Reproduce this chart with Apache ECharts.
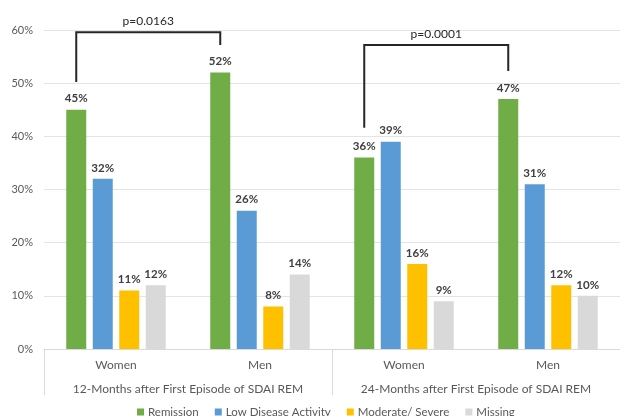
<!DOCTYPE html>
<html>
<head>
<meta charset="utf-8">
<script src="https://cdn.jsdelivr.net/npm/echarts@6/dist/echarts.min.js"></script>
<style>
html,body{margin:0;padding:0;background:#fff;}
#c{width:620px;height:416px;}
</style>
</head>
<body>
<div id="c"></div>
<script>
const categories = ['Women', 'Men', 'Women', 'Men'];
const groups = ['12-Months after First Episode of SDAI REM', '24-Months after First Episode of SDAI REM'];
const seriesNames = ['Remission', 'Low Disease Activity', 'Moderate/ Severe', 'Missing'];
const remission = [45, 52, 36, 47];
const lowDisease = [32, 26, 39, 31];
const moderate = [11, 8, 16, 12];
const missing = [12, 14, 9, 10];
const colors = ['#70AD47', '#5B9BD5', '#FFC000', '#D9D9D9'];
const yTicks = [0, 10, 20, 30, 40, 50, 60];
// brackets: [leftCategory, rightCategory], left-foot value, top value, right-foot value, label
const bracketCats = [[0, 1], [2, 3]];
const bracketLeftFoot = [50.2, 41.6];
const bracketTop = [59.6, 57.2];
const bracketRightFoot = [57.2, 52.3];
const bracketLabelY = [61.6, 59.3];
const pLabels = ['p=0.0163', 'p=0.0001'];

const FONT = 'Lato';
const BAR_W = 20, BAR_GAP = 6.5;
const chart = echarts.init(document.getElementById('c'), null, {renderer: 'canvas'});
const allData = [remission, lowDisease, moderate, missing];

const option = {
  animation: false,
  textStyle: {fontFamily: FONT},
  grid: {left: 44, top: 30, width: 583, height: 319, containLabel: false},
  legend: {
    data: seriesNames,
    left: 132, bottom: -7,
    icon: 'rect', itemWidth: 7, itemHeight: 7, itemGap: 16,
    textStyle: {fontFamily: FONT, fontSize: 11.5, color: '#595959', padding: [0, 0, 0, -1]}
  },
  xAxis: [
    {
      type: 'category', data: categories, position: 'bottom',
      axisLine: {show: true, lineStyle: {color: '#D9D9D9', width: 1}},
      axisTick: {show: false},
      axisLabel: {interval: 0, hideOverlap: false, fontFamily: FONT, fontSize: 12, color: '#595959', margin: 10}
    },
    {
      type: 'category', data: groups, position: 'bottom',
      axisLine: {show: false},
      axisTick: {show: true, interval: 0, length: 46, lineStyle: {color: '#D9D9D9', width: 1}},
      axisLabel: {interval: 0, hideOverlap: false, fontFamily: FONT, fontSize: 12, color: '#595959', margin: 34}
    }
  ],
  yAxis: {
    type: 'value', min: 0, max: 60, interval: 10,
    axisLine: {show: false}, axisTick: {show: false},
    splitLine: {lineStyle: {color: '#E4E4E4', width: 1}},
    axisLabel: {fontFamily: FONT, fontSize: 11, color: '#595959', margin: 11, formatter: v => v + '%'}
  },
  series: seriesNames.map((name, i) => ({
    name, type: 'bar', xAxisIndex: 0, yAxisIndex: 0,
    data: allData[i], barWidth: BAR_W, barGap: (BAR_GAP / BAR_W * 100) + '%',
    itemStyle: {color: colors[i]},
    label: {show: true, position: 'top', distance: 5, formatter: p => p.value + '%',
      fontFamily: FONT, fontSize: 11.5, fontWeight: 'bold', color: '#404040'}
  }))
};
chart.setOption(option);

// Brackets from data coordinates (first bar of each category = Remission)
const offset = -1.5 * (BAR_W + BAR_GAP);
const g = [];
bracketCats.forEach((pair, k) => {
  const pl = chart.convertToPixel({xAxisIndex: 0, yAxisIndex: 0}, [pair[0], bracketLeftFoot[k]]);
  const pt = chart.convertToPixel({xAxisIndex: 0, yAxisIndex: 0}, [pair[0], bracketTop[k]]);
  const pr = chart.convertToPixel({xAxisIndex: 0, yAxisIndex: 0}, [pair[1], bracketRightFoot[k]]);
  const pTxt = chart.convertToPixel({xAxisIndex: 0, yAxisIndex: 0}, [pair[0], bracketLabelY[k]]);
  const xl = pl[0] + offset, xr = pr[0] + offset;
  g.push({
    type: 'polyline',
    shape: {points: [[xl, pl[1]], [xl, pt[1]], [xr, pt[1]], [xr, pr[1]]]},
    style: {stroke: '#262626', lineWidth: 2, fill: null}
  });
  g.push({
    type: 'text', x: (xl + xr) / 2, y: pTxt[1],
    style: {text: pLabels[k], fill: '#262626', font: '12px ' + FONT, textAlign: 'center', textVerticalAlign: 'middle'}
  });
});
chart.setOption({graphic: g});
</script>
</body>
</html>
